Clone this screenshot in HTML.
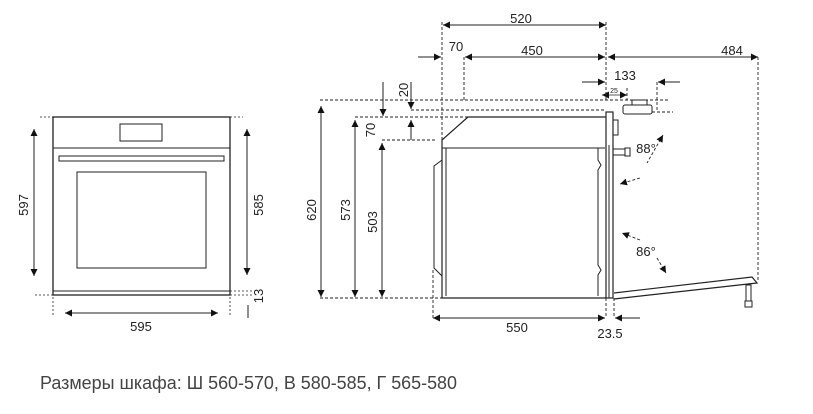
<!DOCTYPE html>
<html><head><meta charset="utf-8"><style>
html,body{margin:0;padding:0;background:#fff;width:813px;height:414px;overflow:hidden}
svg{display:block}
text{font-family:"Liberation Sans",sans-serif;fill:#222}
</style></head><body>
<svg width="813" height="414" viewBox="0 0 813 414" xmlns="http://www.w3.org/2000/svg">
<defs>
<marker id="a" viewBox="0 0 10 10" refX="10" refY="5" markerWidth="7" markerHeight="7" orient="auto-start-reverse" markerUnits="userSpaceOnUse"><path d="M0,0L10,5L0,10z" fill="#111"/></marker>
</defs>
<g stroke="#222" fill="none" stroke-width="1">
<rect x="53" y="117" width="177" height="178" stroke-width="1.3"/>
<line x1="53" y1="148" x2="230" y2="148"/>
<rect x="120" y="124" width="42" height="17"/>
<rect x="59" y="156" width="165" height="5"/>
<rect x="77" y="172" width="129" height="96"/>
<line x1="53" y1="291" x2="230" y2="291"/>
<g stroke-dasharray="2,2" stroke-width="0.8">
<line x1="40" y1="117" x2="53" y2="117"/><line x1="230" y1="117" x2="243" y2="117"/>
<line x1="35" y1="295" x2="53" y2="295"/><line x1="230" y1="295" x2="252" y2="295"/>
<line x1="230" y1="291" x2="252" y2="291"/>
<line x1="53" y1="297" x2="53" y2="315"/><line x1="230" y1="297" x2="230" y2="315"/>
</g>
<line x1="34" y1="129" x2="34" y2="276" marker-start="url(#a)" marker-end="url(#a)"/>
<line x1="247" y1="129" x2="247" y2="275" marker-start="url(#a)" marker-end="url(#a)"/>
<line x1="65" y1="313" x2="218" y2="313" marker-start="url(#a)" marker-end="url(#a)"/>
<line x1="248" y1="305" x2="248" y2="318"/>
<line x1="443" y1="25" x2="606" y2="25" marker-start="url(#a)" marker-end="url(#a)"/>
<line x1="465" y1="57" x2="605" y2="57" marker-start="url(#a)" marker-end="url(#a)"/>
<line x1="418" y1="57" x2="441" y2="57" marker-end="url(#a)"/>
<line x1="608" y1="57" x2="758" y2="57" marker-start="url(#a)" marker-end="url(#a)"/>
<line x1="582" y1="82" x2="605" y2="82" marker-end="url(#a)"/>
<line x1="680" y1="82" x2="658" y2="82" marker-end="url(#a)"/>
<line x1="602" y1="95" x2="627" y2="95" marker-start="url(#a)" marker-end="url(#a)" stroke-width="0.7"/>
<line x1="321" y1="106" x2="321" y2="297" marker-start="url(#a)" marker-end="url(#a)"/>
<line x1="355" y1="120" x2="355" y2="297" marker-start="url(#a)" marker-end="url(#a)"/>
<line x1="382" y1="143" x2="382" y2="297" marker-start="url(#a)" marker-end="url(#a)"/>
<line x1="383" y1="82" x2="383" y2="116" marker-end="url(#a)"/>
<line x1="411" y1="82" x2="411" y2="109" marker-end="url(#a)"/>
<line x1="411" y1="140" x2="411" y2="120" marker-end="url(#a)"/>
<line x1="433" y1="318" x2="605" y2="318" marker-start="url(#a)" marker-end="url(#a)"/>
<line x1="640" y1="318" x2="615" y2="318" marker-end="url(#a)"/>
<g stroke-dasharray="3,2" stroke-width="0.9">
<line x1="442" y1="22" x2="442" y2="140"/>
<line x1="464" y1="57" x2="464" y2="100"/>
<line x1="606" y1="22" x2="606" y2="100"/>
<line x1="320" y1="100" x2="670" y2="100"/>
<line x1="411" y1="110" x2="606" y2="110"/>
<line x1="355" y1="117" x2="470" y2="117"/>
<line x1="382" y1="140" x2="435" y2="140"/>
<line x1="320" y1="298" x2="610" y2="298"/>
<line x1="758" y1="57" x2="758" y2="282"/>
<line x1="657" y1="82" x2="657" y2="112"/>
<line x1="652" y1="112" x2="673" y2="112"/>
<line x1="627" y1="88" x2="627" y2="100"/>
<line x1="433" y1="270" x2="433" y2="318"/>
<line x1="606" y1="298" x2="606" y2="318"/>
<line x1="614" y1="298" x2="614" y2="318"/>
<path d="M663,135 L647,163" marker-start="url(#a)"/>
<path d="M640,178 L620,184" marker-end="url(#a)"/>
<path d="M640,240 L622,233" marker-end="url(#a)"/>
<path d="M657,258 L666,273" marker-end="url(#a)"/>
</g>
<path d="M606,117 L468,117 L442,140 L442,298 L606,298" stroke-width="1.2"/>
<path d="M442,148 L605,148"/>
<line x1="446" y1="148" x2="446" y2="296"/>
<path d="M442,160 L434,166 L434,268 L442,276"/>
<rect x="606" y="112" width="7" height="186" stroke-width="1.2"/>
<path d="M613,120 L618,120 L618,135 L613,135"/>
<line x1="609" y1="145" x2="609" y2="298"/>
<path d="M598,148 L598,160 L601,165 L598,170 L598,265 L601,270 L598,275 L598,296"/>
<rect x="613" y="149" width="12" height="6"/>
<rect x="625" y="148" width="5" height="8"/>
<rect x="623" y="105" width="29" height="9" rx="2"/>
<rect x="632" y="100" width="15" height="5"/>
<path d="M614,293 L752,277 L757,283 L614,299" stroke-width="1.2"/>
<rect x="746" y="285" width="5" height="16"/>
<rect x="745" y="301" width="7" height="6"/>
</g>
<g font-size="13" text-anchor="middle">
<text transform="translate(28,205) rotate(-90)">597</text>
<text transform="translate(263,205) rotate(-90)">585</text>
<text transform="translate(263,296) rotate(-90)">13</text>
<text x="141" y="331">595</text>
<text x="521" y="23">520</text>
<text x="456" y="51">70</text>
<text x="532" y="55">450</text>
<text x="732" y="55">484</text>
<text x="625" y="80">133</text>
<text x="614" y="93" font-size="7">25</text>
<text transform="translate(408,90) rotate(-90)">20</text>
<text transform="translate(375,130) rotate(-90)">70</text>
<text transform="translate(316,210) rotate(-90)">620</text>
<text transform="translate(350,210) rotate(-90)">573</text>
<text transform="translate(377,222) rotate(-90)">503</text>
<text x="646" y="153">88°</text>
<text x="646" y="256">86°</text>
<text x="517" y="332">550</text>
<text x="610" y="338">23.5</text>
</g>
<text x="40" y="389" font-size="18.5" textLength="417" lengthAdjust="spacingAndGlyphs" style="fill:#444">Размеры шкафа: Ш 560-570, В 580-585, Г 565-580</text>
</svg>
</body></html>
